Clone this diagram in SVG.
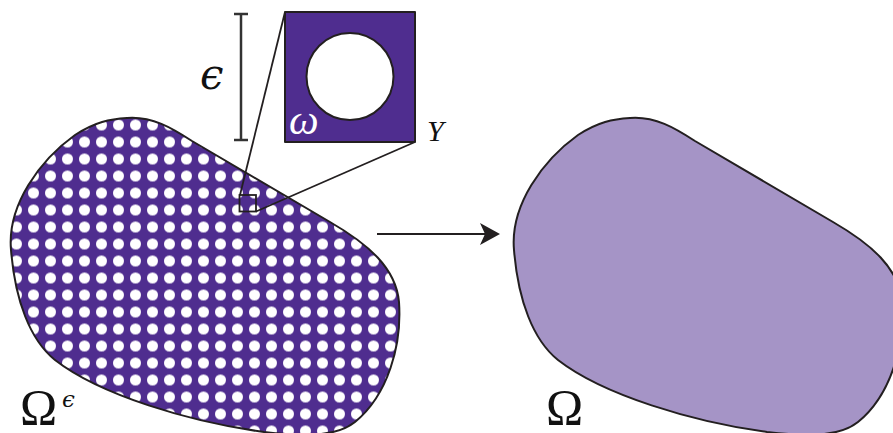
<svg xmlns="http://www.w3.org/2000/svg" width="893" height="433" viewBox="0 0 893 433">
<style>
.outline{stroke:#231f20;stroke-width:2;stroke-linejoin:round}
.thin{stroke:#231f20;stroke-width:1.8;fill:none}
.math{font-family:"Liberation Serif","DejaVu Serif",serif;fill:#111}
.eps{font-family:"DejaVu Serif",serif;font-style:italic;fill:#111}
</style>
<defs>
<pattern id="dots" patternUnits="userSpaceOnUse" x="8" y="-2.5" width="17" height="17">
<rect width="17" height="17" fill="#4f2d8f"/>
<circle cx="8.5" cy="8.5" r="5.5" fill="#fff"/>
</pattern>
<path id="blob" d="M127,118 C152,116 172,128 192,141 L330,222 C368,244 396,268 399,302 C402,345 388,395 355,422 C335,438 300,436 264,432 C190,422 100,395 55,360 C30,340 15,300 11,250 C7,205 40,160 75,135 C95,122 110,119 127,118 Z"/>
</defs>
<g id="omega-eps">
<use href="#blob" class="outline" fill="url(#dots)"/>
</g>
<g id="omega">
<use href="#blob" class="outline" fill="#a594c6" transform="translate(503,0)"/>
</g>
<g id="cell">
<rect x="285" y="12" width="130" height="130" fill="#4f2d8f" class="outline"/>
<circle cx="350" cy="76.5" r="43.5" fill="#fff" class="outline"/>
<text x="289" y="134" class="math" font-style="italic" font-size="42" style="fill:#fff">ω</text>
<text x="427" y="141" class="math" font-style="italic" font-size="30">Y</text>
</g>
<g id="scale">
<line x1="241" y1="14" x2="241" y2="140" stroke="#333" stroke-width="2.5"/>
<line x1="234" y1="14" x2="248" y2="14" stroke="#333" stroke-width="2.5"/>
<line x1="234" y1="140" x2="248" y2="140" stroke="#333" stroke-width="2.5"/>
<text x="200" y="89" class="eps" font-size="42">ϵ</text>
</g>
<g id="connectors">
<rect x="239.5" y="195" width="16.5" height="16.5" class="thin"/>
<line x1="285" y1="12" x2="240" y2="195" class="thin"/>
<line x1="415" y1="142" x2="256" y2="211.5" class="thin"/>
<line x1="377" y1="234" x2="488" y2="234" stroke="#231f20" stroke-width="2"/>
<path d="M500,234 L480,223 L485,234 L480,245 Z" fill="#231f20"/>
</g>
<g id="labels">
<text x="20" y="424" class="math" font-size="50">Ω</text>
<text x="62" y="407" class="eps" font-size="23">ϵ</text>
<text x="546" y="424" class="math" font-size="50">Ω</text>
</g>
</svg>
